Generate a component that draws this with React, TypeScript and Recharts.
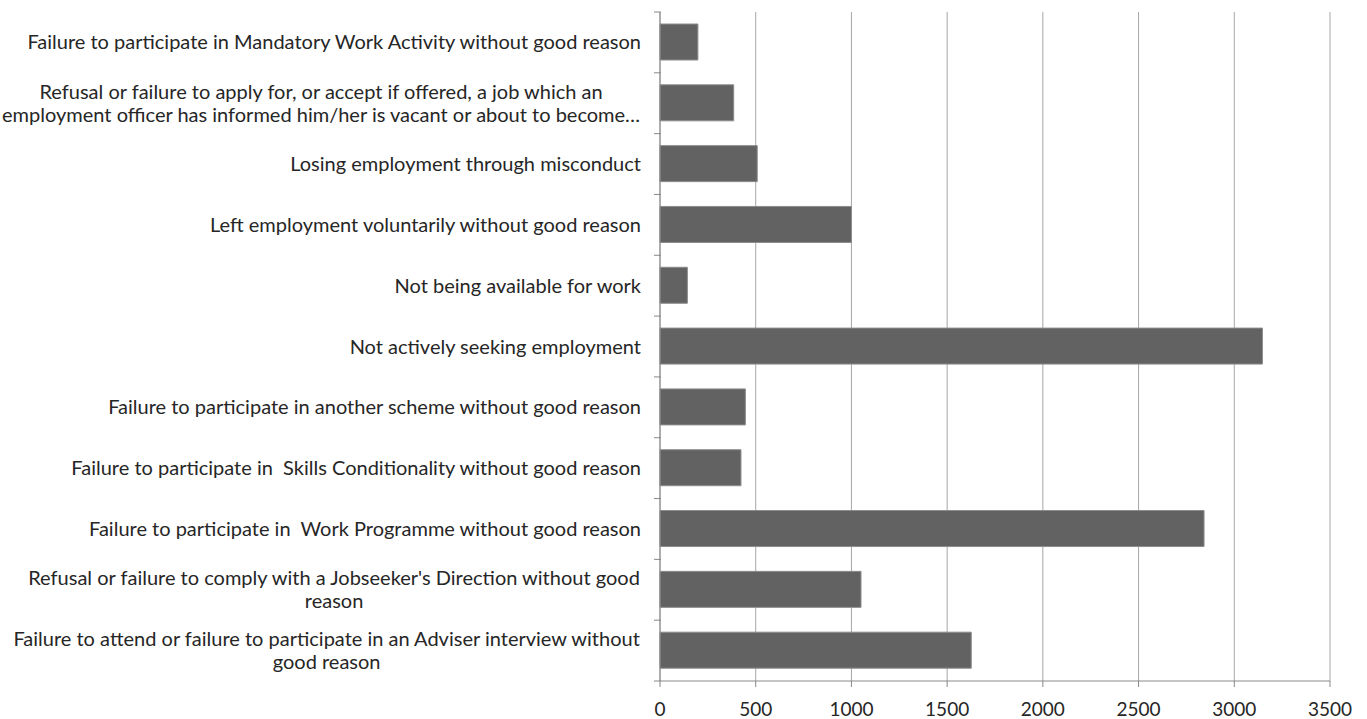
import React from 'react';
import { BarChart, Bar, XAxis, YAxis, CartesianGrid } from 'recharts';

const categories: string[][] = [
  ['Failure to participate in Mandatory Work Activity without good reason'],
  [
    'Refusal or failure to apply for, or accept if offered, a job which an',
    'employment officer has informed him/her is vacant or about to become…',
  ],
  ['Losing employment through misconduct'],
  ['Left employment voluntarily without good reason'],
  ['Not being available for work'],
  ['Not actively seeking employment'],
  ['Failure to participate in another scheme without good reason'],
  ['Failure to participate in  Skills Conditionality without good reason'],
  ['Failure to participate in  Work Programme without good reason'],
  ["Refusal or failure to comply with a Jobseeker's Direction without good", 'reason'],
  ['Failure to attend or failure to participate in an Adviser interview without', 'good reason'],
];

const sanctions = [198, 385, 508, 1000, 143, 3147, 446, 423, 2842, 1050, 1626];

const xTicks = [0, 500, 1000, 1500, 2000, 2500, 3000, 3500];

const data = categories.map((lines, i) => ({ name: lines.join('\n'), value: sanctions[i] }));

const W = 1367;
const H = 719;
const TOP = 12;
const XAXIS_H = 38;
const FONT = 'Lato, "Open Sans", sans-serif';
const FONT_SIZE = 20;
const band = (H - TOP - XAXIS_H) / categories.length;

let ctx: CanvasRenderingContext2D | null = null;
function measure(s: string) {
  if (!ctx) ctx = document.createElement('canvas').getContext('2d');
  if (!ctx) return s.length * FONT_SIZE * 0.45;
  ctx.font = `${FONT_SIZE}px Lato`;
  return ctx.measureText(s).width;
}

function CategoryTick(props: any) {
  const { x, y, payload, index } = props;
  const lines: string[] = String(payload.value).split('\n');
  const ax = x + 9;
  const textRight = x - 11;
  const lineH = 23;
  const startY = y - ((lines.length - 1) * lineH) / 2;
  const maxW = Math.max(...lines.map(measure));
  const multi = lines.length > 1;
  return (
    <g>
      <line x1={ax - 7} x2={ax} y1={y - band / 2} y2={y - band / 2} stroke="#888" />
      {index === categories.length - 1 && (
        <line x1={ax - 7} x2={ax} y1={y + band / 2} y2={y + band / 2} stroke="#888" />
      )}
      <text
        fontFamily={FONT}
        fontSize={FONT_SIZE}
        fill="#262626"
        textAnchor={multi ? 'middle' : 'end'}
        style={{ whiteSpace: 'pre' }}
      >
        {lines.map((l, i) => (
          <tspan key={i} x={multi ? textRight - maxW / 2 : textRight} y={startY + i * lineH} dy="0.35em">
            {l}
          </tspan>
        ))}
      </text>
    </g>
  );
}

export default function App() {
  return (
    <div style={{ width: W, height: H, background: '#fff' }}>
      <style>{'body{margin:0}'}</style>
      <BarChart
        width={W}
        height={H}
        data={data}
        layout="vertical"
        margin={{ top: TOP, right: 37, left: 0, bottom: 0 }}
      >
        <CartesianGrid horizontal={false} stroke="#a6a6a6" />
        <XAxis
          type="number"
          domain={[0, 3500]}
          ticks={xTicks}
          interval={0}
          height={XAXIS_H}
          axisLine={{ stroke: '#888' }}
          tickLine={{ stroke: '#888' }}
          tickSize={6}
          tickMargin={16}
          tick={{ fontFamily: FONT, fontSize: 19, fill: '#262626' }}
        />
        <YAxis
          type="category"
          dataKey="name"
          width={660}
          interval={0}
          axisLine={{ stroke: '#888' }}
          tickLine={false}
          tick={<CategoryTick />}
        />
        <Bar dataKey="value" fill="#626262" stroke="#8c8c8c" strokeWidth={1} barSize={36} isAnimationActive={false} />
      </BarChart>
    </div>
  );
}
